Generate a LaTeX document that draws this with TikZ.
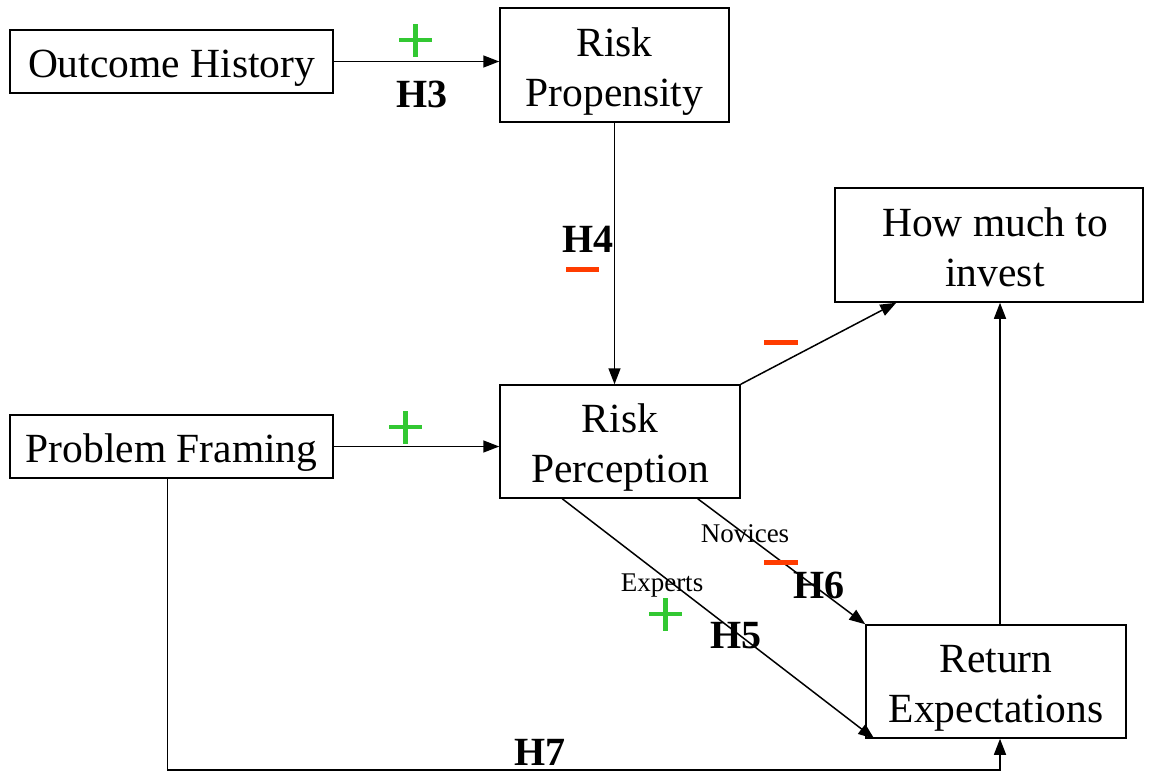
\documentclass[tikz,border=0pt]{standalone}
\usepackage{fontspec}
\setmainfont{Liberation Serif}
\usetikzlibrary{arrows.meta,calc}
\newcommand{\lowtext}[1]{\raisebox{-6pt}[\height][\depth]{\begin{tabular}{@{}c@{}}#1\end{tabular}}}
\begin{document}
\begin{tikzpicture}[x=1pt,y=-1pt,
  box/.style={draw,line width=1.5pt,inner sep=0pt,align=center,font=\fontsize{41.5}{50}\selectfont},
  arr/.style={line width=1.5pt,-{Triangle[length=16pt,width=12pt]}},
  hlab/.style={font=\fontsize{40}{44}\selectfont\bfseries,inner sep=0pt},
  small/.style={font=\fontsize{27}{30}\selectfont,inner sep=0pt},
  plusc/.style={draw={rgb,255:red,50;green,200;blue,50},line width=4.5pt},
  minusc/.style={draw={rgb,255:red,255;green,60;blue,0},line width=5pt}]
\useasboundingbox (0,0) rectangle (1159,772);
\node[box,minimum width=323pt,minimum height=63pt] (oh) at (171.5,61.5) {\lowtext{Outcome History}};
\node[box,minimum width=229pt,minimum height=114pt] (rp) at (614.5,65) {\lowtext{Risk\\Propensity}};
\node[box,minimum width=308pt,minimum height=114pt] (hm) at (989,245) {\lowtext{\hspace*{12pt}How much to\\\hspace*{12pt}invest}};
\node[box,minimum width=323pt,minimum height=63pt] (pf) at (171.5,446.5) {\lowtext{Problem Framing}};
\node[box,minimum width=240pt,minimum height=113pt] (rper) at (620,441.5) {\lowtext{Risk\\Perception}};
\node[box,minimum width=260pt,minimum height=113pt] (re) at (996,681.5) {\lowtext{Return\\Expectations}};
\coordinate (bot) at (0,770);
\coordinate (reup) at ($(re.north)+(4,0)$);
\coordinate (hmin) at ($(hm.south west)+(62,0)$);
\coordinate (novs) at ($(rper.south east)+(-43,0)$);
\coordinate (exps) at ($(rper.south west)+(63,0)$);
\coordinate (expe) at ($(re.south west)+(9,0)$);
\coordinate (pfs) at ($(pf.south)+(-4,0)$);
\coordinate (res) at ($(re.south)+(4,0)$);
% connectors
\draw[arr] (oh.east) -- (oh.east -| rp.west);
\draw[arr] (rp.south) -- (rp.south |- rper.north);
\draw[arr] (pf.east) -- (pf.east -| rper.west);
\draw[arr] (rper.north east) -- (hmin);
\draw[arr] (reup) -- (reup |- hm.south);
\draw[arr] (novs) -- (re.north west);
\draw[arr] (exps) -- (expe);
\draw[arr] (pfs) -- (pfs |- bot) -| (res);
% labels
\node[hlab] (h3) at (422,94) {H3};
\node[hlab] (h4) at (588,239) {H4};
\node[hlab] (h6) at (819,585) {H6};
\node[hlab] (h5) at (736,636) {H5};
\node[hlab] (h7) at (540,752) {H7};
\node[small] (nov) at (745,534) {Novices};
\node[small] (exp) at (662,586) {Experts};
% signs
\draw[plusc] (399,40) -- (432,40) (415.5,24) -- (415.5,57);
\draw[plusc] (389,427) -- (422,427) (405.5,411) -- (405.5,444);
\draw[plusc] (649,614) -- (682,614) (665.5,598) -- (665.5,631);
\draw[minusc] (566,269) -- (599,269);
\draw[minusc] (764,342) -- (798,342);
\draw[minusc] (764,562) -- (798,562);
\end{tikzpicture}
\end{document}
